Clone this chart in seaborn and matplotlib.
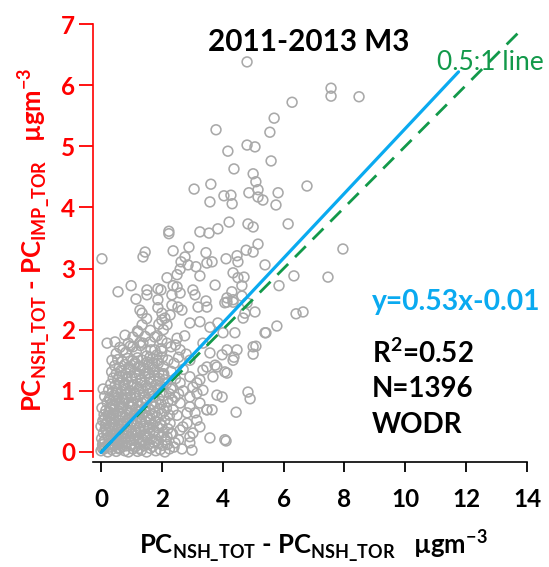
import matplotlib
matplotlib.use("Agg")
import matplotlib.pyplot as plt
import seaborn as sns
import pandas as pd

# ---------------- data ----------------
sparse_x = [4.8, 7.56, 7.56, 8.48, 6.28, 5.69, 5.55, 3.78, 4.17, 4.8, 5.06, 5.59, 4.37, 5.0, 5.09, 3.61, 3.06, 6.77,
            4.04, 4.27, 4.31, 3.58, 4.86, 5.16, 5.16, 5.32, 5.82, 5.75, 6.15, 4.21, 4.83, 5.0, 3.84, 3.25, 3.55, 2.23,
            2.23, 2.89, 2.37, 1.45, 1.38, 0.03, 3.45, 4.77, 5.0, 5.16, 4.47, 4.11, 4.5, 2.76, 2.63, 2.86, 2.6, 3.12,
            3.48, 3.65, 5.39, 7.95, 6.34, 7.46, 5.85, 4.34, 4.5, 4.7, 4.63, 2.17, 2.5, 3.25,
            0.56, 0.99, 1.15, 1.51, 1.51, 1.87, 1.97, 1.87, 2.37, 2.5, 2.33, 2.6, 3.02, 3.09, 3.45, 3.75, 4.3, 4.14, 4.63,
            6.41, 6.64, 5.78, 5.42, 5.0, 5.09, 5.0, 4.67, 4.83, 4.9, 4.44, 4.11, 3.81, 3.98, 3.58, 2.99, 2.66, 0.07,
            4.47, 4.37, 3.98, 4.14, 3.75, 3.68, 3.35, 3.25, 3.02, 3.15, 2.92, 3.09, 3.48, 3.65, 3.25, 2.83, 2.92, 2.6,
            2.43, 5.06,
            1.35, 1.87, 2.0, 2.33, 2.53, 2.66, 2.27, 3.19, 3.48, 4.14, 4.34, 4.73, 2.0, 2.17, 2.92, 3.25, 3.58, 3.84,
            4.4, 4.01, 5.39,
            0.79, 1.22, 0.2, 0.46, 0.36, 0.72, 1.05, 1.38, 1.77, 1.77, 1.61, 2.17, 2.5, 2.6,
            3.35, 3.58, 4.14, 4.34, 4.07, 3.81, 3.48, 2.92, 4.07,
            2.92, 3.15, 3.35, 2.92, 3.25, 3.48, 2.83, 3.15, 2.69, 3.02, 2.92, 2.6, 2.43, 2.37, 2.27, 2.17, 2.6,
            1.28, 4.07, 4.34, 4.8,
            2.35, 2.45, 2.55, 2.70, 2.40, 2.55, 2.80, 2.50, 2.35, 2.55, 2.70, 2.45, 2.75, 2.35]
sparse_y = [6.38, 5.95, 5.82, 5.81, 5.72, 5.46, 5.23, 5.27, 4.92, 5.02, 4.99, 4.76, 4.63, 4.55, 4.42, 4.38, 4.30, 4.35,
            4.19, 4.20, 4.06, 4.09, 4.24, 4.29, 4.17, 4.12, 4.24, 4.04, 3.73, 3.76, 3.73, 3.68, 3.65, 3.60, 3.58, 3.61,
            3.57, 3.35, 3.29, 3.27, 3.19, 3.16, 3.26, 3.30, 3.27, 3.40, 3.21, 3.16, 3.11, 3.19, 3.11, 3.06, 2.99, 3.03,
            3.09, 3.11, 3.06, 3.32, 2.88, 2.86, 2.72, 2.93, 2.85, 2.86, 2.72, 2.85, 2.90, 2.88,
            2.62, 2.72, 2.50, 2.65, 2.57, 2.67, 2.65, 2.49, 2.72, 2.70, 2.57, 2.60, 2.65, 2.57, 2.47, 2.73, 2.62, 2.52, 2.55,
            2.26, 2.29, 2.06, 1.95, 1.72, 1.73, 1.60, 2.19, 0.98, 0.87, 0.65, 0.18, 0.93, 0.90, 0.23, 0.03, 0.05, 1.03,
            1.67, 1.55, 1.59, 1.29, 1.42, 1.23, 1.34, 1.18, 1.06, 0.96, 0.74, 0.64, 0.69, 0.69, 0.41, 0.47, 0.25, 0.36,
            0.15, 2.29,
            2.27, 2.36, 2.27, 2.40, 2.37, 2.32, 2.24, 2.37, 2.37, 2.45, 2.45, 2.27, 2.16, 2.08, 2.11, 2.13, 2.04, 2.11,
            1.95, 1.95, 1.95,
            1.91, 1.96, 1.78, 1.80, 1.50, 1.67, 1.72, 1.78, 1.88, 1.67, 1.55, 1.78, 1.86, 1.67,
            1.78, 1.62, 1.67, 1.50, 1.31, 1.39, 1.39, 1.50, 0.20,
            1.23, 1.13, 1.01, 0.90, 0.80, 0.69, 0.64, 0.52, 0.41, 0.31, 0.15, 1.13, 0.90, 0.69, 0.47, 0.25, 0.80,
            2.32, 2.44, 2.49, 2.44,
            1.05, 1.20, 0.95, 1.35, 1.45, 1.55, 1.60, 0.60, 0.30, 0.20, 1.00, 1.75, 1.90, 0.85]

core_x = [0.00, 0.10, 0.22, 0.35, 0.50, 0.62, 0.78, 0.90, 1.05, 1.20, 1.33, 1.50, 1.62, 1.80, 1.95, 2.10, 2.25,
          0.05, 0.15, 0.30, 0.42, 0.58, 0.70, 0.85, 1.00, 1.12, 1.28, 1.42, 1.57, 1.70, 1.88, 2.02, 2.18, 2.40,
          0.02, 0.12, 0.25, 0.38, 0.50, 0.66, 0.80, 0.95, 1.08, 1.22, 1.38, 1.52, 1.66, 1.82, 1.98, 2.12,
          0.08, 0.20, 0.33, 0.46, 0.60, 0.74, 0.90, 1.02, 1.16, 1.30, 1.46, 1.60, 1.75, 1.90, 2.05, 2.30,
          0.00, 0.14, 0.28, 0.40, 0.55, 0.68, 0.82, 0.97, 1.10, 1.25, 1.40, 1.55, 1.70, 1.86, 2.00, 2.20,
          0.06, 0.18, 0.32, 0.45, 0.60, 0.75, 0.88, 1.03, 1.18, 1.32, 1.48, 1.63, 1.78, 1.95, 2.10,
          0.10, 0.24, 0.38, 0.50, 0.64, 0.80, 0.93, 1.08, 1.22, 1.37, 1.52, 1.68, 1.84, 2.00, 2.25,
          0.03, 0.16, 0.30, 0.44, 0.58, 0.72, 0.86, 1.00, 1.14, 1.30, 1.45, 1.60, 1.76, 1.92, 2.08,
          0.20, 0.35, 0.48, 0.62, 0.77, 0.90, 1.05, 1.20, 1.34, 1.50, 1.65, 1.80, 1.98, 2.20,
          0.12, 0.28, 0.42, 0.56, 0.70, 0.84, 0.98, 1.12, 1.27, 1.42, 1.58, 1.72, 1.90, 2.05,
          0.25, 0.38, 0.52, 0.66, 0.80, 0.95, 1.10, 1.24, 1.38, 1.54, 1.70, 1.86, 2.00, 2.30,
          0.32, 0.46, 0.60, 0.75, 0.90, 1.04, 1.18, 1.33, 1.48, 1.64, 1.80, 1.96, 2.15,
          0.40, 0.55, 0.70, 0.85, 1.00, 1.15, 1.30, 1.45, 1.60, 1.76, 1.92, 2.10,
          0.35, 0.50, 0.65, 0.82, 0.96, 1.10, 1.26, 1.42, 1.58, 1.74, 1.90, 2.06, 2.30,
          0.45, 0.60, 0.78, 0.92, 1.08, 1.24, 1.40, 1.56, 1.72, 1.88, 2.05,
          0.55, 0.70, 0.88, 1.04, 1.20, 1.36, 1.52, 1.70, 1.86, 2.02, 2.20,
          0.50, 0.82, 1.16, 1.50, 1.84, 2.00,
          0.62, 0.96, 1.30, 1.64, 1.98, 2.30,
          0.90, 1.28, 1.62, 2.00,
          1.05, 1.45, 1.85,
          1.20, 1.62, 2.05,
          1.35, 1.90,
          1.50, 2.10,
          0.05, 0.28, 0.45, 0.72, 0.18, 0.52, 0.85, 0.30, 0.65, 0.95, 1.15, 1.35, 0.40, 0.75, 1.00, 1.25, 0.15, 0.60,
          0.08, 0.25, 0.40, 0.55, 0.68, 0.82, 0.98, 1.12, 1.26, 1.45, 1.60, 1.75, 0.12, 0.26, 0.42, 0.58, 0.70, 0.86,
          1.02, 1.16, 1.30, 1.44, 1.58, 1.72, 0.30, 0.50, 0.65, 0.82, 0.98, 1.14, 1.32, 1.48, 1.62, 1.78, 0.60, 0.78,
          0.94, 1.12, 1.30, 1.55, 1.70, 1.88, 2.15, 2.25, 2.05]
core_y = [0.02, 0.05, 0.00, 0.04, 0.01, 0.06, 0.02, 0.00, 0.05, 0.01, 0.03, 0.00, 0.06, 0.02, 0.04, 0.00, 0.05,
          0.12, 0.09, 0.14, 0.10, 0.13, 0.09, 0.15, 0.11, 0.08, 0.14, 0.10, 0.13, 0.09, 0.15, 0.11, 0.12, 0.08,
          0.22, 0.19, 0.24, 0.20, 0.23, 0.18, 0.22, 0.25, 0.19, 0.23, 0.20, 0.26, 0.21, 0.18, 0.24, 0.20,
          0.31, 0.28, 0.33, 0.29, 0.32, 0.27, 0.34, 0.30, 0.27, 0.33, 0.29, 0.31, 0.35, 0.28, 0.32, 0.30,
          0.42, 0.38, 0.41, 0.44, 0.39, 0.43, 0.37, 0.41, 0.45, 0.39, 0.42, 0.38, 0.44, 0.40, 0.43, 0.38,
          0.51, 0.48, 0.53, 0.49, 0.52, 0.47, 0.54, 0.50, 0.47, 0.53, 0.49, 0.55, 0.50, 0.46, 0.52,
          0.61, 0.58, 0.63, 0.59, 0.62, 0.57, 0.64, 0.60, 0.58, 0.63, 0.59, 0.62, 0.57, 0.63, 0.60,
          0.72, 0.68, 0.73, 0.70, 0.67, 0.73, 0.69, 0.74, 0.70, 0.67, 0.72, 0.69, 0.74, 0.70, 0.67,
          0.81, 0.78, 0.83, 0.79, 0.84, 0.80, 0.77, 0.83, 0.80, 0.85, 0.79, 0.82, 0.78, 0.83,
          0.91, 0.88, 0.93, 0.90, 0.87, 0.94, 0.90, 0.88, 0.93, 0.89, 0.95, 0.91, 0.87, 0.92,
          1.01, 0.98, 1.03, 0.99, 1.04, 1.00, 0.97, 1.03, 1.00, 1.05, 0.99, 1.02, 0.98, 1.03,
          1.11, 1.08, 1.13, 1.09, 1.14, 1.10, 1.07, 1.13, 1.09, 1.15, 1.10, 1.08, 1.12,
          1.21, 1.18, 1.23, 1.19, 1.24, 1.20, 1.17, 1.23, 1.19, 1.25, 1.20, 1.18,
          1.31, 1.28, 1.33, 1.29, 1.34, 1.30, 1.27, 1.33, 1.29, 1.35, 1.30, 1.28, 1.32,
          1.41, 1.38, 1.43, 1.39, 1.44, 1.40, 1.37, 1.43, 1.39, 1.45, 1.40,
          1.51, 1.48, 1.53, 1.49, 1.54, 1.50, 1.47, 1.53, 1.49, 1.55, 1.50,
          1.61, 1.63, 1.64, 1.57, 1.59, 1.65,
          1.71, 1.73, 1.74, 1.67, 1.69, 1.72,
          1.78, 1.79, 1.80, 1.83,
          1.88, 1.89, 1.90,
          1.98, 1.99, 2.00,
          2.08, 2.09,
          2.18, 2.19,
          0.06, 0.08, 0.17, 0.15, 0.35, 0.36, 0.30, 0.55, 0.45, 0.55, 0.36, 0.17, 0.76, 0.80, 0.66, 0.75, 0.45, 0.05,
          0.16, 0.12, 0.27, 0.07, 0.30, 0.10, 0.20, 0.32, 0.06, 0.24, 0.40, 0.15, 0.55, 0.66, 0.60, 0.42, 0.58, 0.47,
          0.78, 0.62, 0.48, 0.66, 0.52, 0.33, 0.85, 0.96, 0.74, 0.88, 1.08, 0.94, 1.18, 0.82, 1.02, 0.64, 1.24, 1.10,
          1.36, 1.46, 1.40, 1.28, 1.45, 1.16, 0.72, 0.95, 1.26]

fit_slope = 0.53
fit_intercept = -0.01
fit_x = [0.0, 11.75]
ref_slope = 0.5
ref_x = [0.0, 13.7]

x_ticks = [0, 2, 4, 6, 8, 10, 12, 14]
y_ticks = [0, 1, 2, 3, 4, 5, 6, 7]

# ---------------- style ----------------
sns.set_style("white")
plt.rcParams['font.family'] = ['Lato', 'DejaVu Sans']
plt.rcParams['font.weight'] = 'bold'

RED = '#ff0000'
BLUE = '#0aaaf0'
GREEN = '#12994a'
GREY = '#a9a9a9'

W, H = 549, 567
fig = plt.figure(figsize=(W / 100, H / 100), dpi=100)
ax = fig.add_axes([93 / W, 1 - 462 / H, (527 - 93) / W, (462 - 24) / H])

pts = pd.DataFrame({'x': sparse_x + core_x, 'y': sparse_y + core_y})
sns.scatterplot(data=pts, x='x', y='y', ax=ax, marker='o', s=50,
                facecolors='none', edgecolor=GREY, linewidth=1.15, zorder=2)

ref_df = pd.DataFrame({'x': ref_x, 'y': [ref_slope * v for v in ref_x]})
sns.lineplot(data=ref_df, x='x', y='y', ax=ax, color=GREEN, lw=2.0,
             linestyle=(0, (5.5, 3.5)), zorder=3)
fit_df = pd.DataFrame({'x': fit_x, 'y': [fit_slope * v + fit_intercept for v in fit_x]})
sns.lineplot(data=fit_df, x='x', y='y', ax=ax, color=BLUE, lw=2.3, zorder=4)

ax.set_xlim(-0.263, 14)
ax.set_ylim(-0.164, 7)
ax.set_xticks(x_ticks)
ax.set_yticks(y_ticks)
ax.set_xlabel('')
ax.set_ylabel('')

for s in ['top', 'right']:
    ax.spines[s].set_visible(False)
ax.spines['left'].set_color(RED)
ax.spines['left'].set_linewidth(1.2)
ax.spines['left'].set_bounds(-0.08, 7)
ax.spines['bottom'].set_color('black')
ax.spines['bottom'].set_linewidth(1.2)

ax.tick_params(axis='x', direction='out', length=7, width=1.3, color='black',
               labelsize=17.5, pad=12, labelcolor='black', bottom=True)
ax.tick_params(axis='y', direction='out', length=10, width=1.3, color=RED,
               labelsize=17.5, pad=3, labelcolor=RED, left=True)
for lab in ax.get_xticklabels() + ax.get_yticklabels():
    lab.set_fontweight('bold')

xlabel = r'PC$_{\mathregular{NSH\_TOT}}$ - PC$_{\mathregular{NSH\_TOR}}$   µgm$^{\mathregular{-3}}$'
ylabel = r'PC$_{\mathregular{NSH\_TOT}}$ - PC$_{\mathregular{IMP\_TOR}}$   µgm$^{\mathregular{-3}}$'
fig.text(313 / W, 1 - 546 / H, xlabel, ha='center', va='center', fontsize=18.5,
         fontweight='bold', color='black')
fig.text(34 / W, 1 - 240 / H, ylabel, ha='center', va='center', fontsize=18.5,
         fontweight='bold', color=RED, rotation=90)

fig.text(309 / W, 1 - 42 / H, '2011-2013 M3', ha='center', va='center',
         fontsize=21.3, fontweight='bold', color='black')
fig.text(437 / W, 1 - 62 / H, '0.5:1 line', ha='left', va='center',
         fontsize=19, fontweight='normal', color=GREEN)
fig.text(372 / W, 1 - 302 / H, 'y=0.53x-0.01', ha='left', va='center',
         fontsize=20.3, fontweight='bold', color=BLUE)
fig.text(372 / W, 1 - 353 / H, r'R$^{\mathregular{2}}$=0.52', ha='left', va='center',
         fontsize=20, fontweight='bold', color='black')
fig.text(372 / W, 1 - 389 / H, 'N=1396', ha='left', va='center',
         fontsize=20, fontweight='bold', color='black')
fig.text(372 / W, 1 - 425 / H, 'WODR', ha='left', va='center',
         fontsize=20, fontweight='bold', color='black')

fig.savefig('out.png', dpi=100)
